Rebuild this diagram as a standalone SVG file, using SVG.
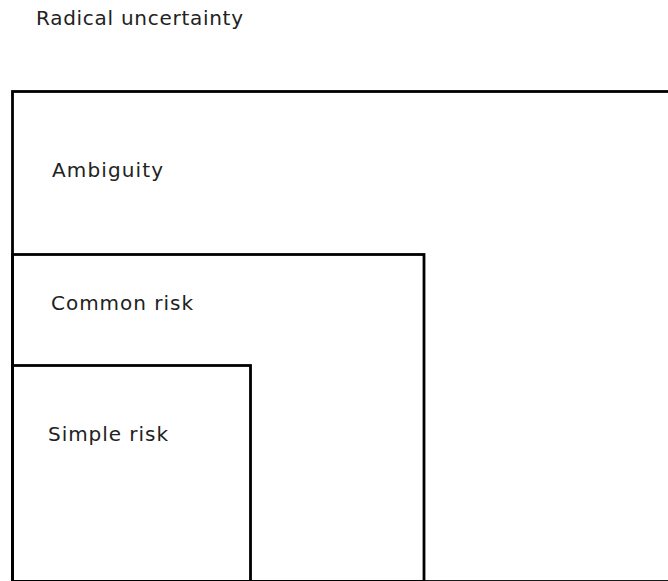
<svg xmlns="http://www.w3.org/2000/svg" width="668" height="581" viewBox="0 0 668 581">
<style>
.box{fill:none;stroke:#000;stroke-width:2.8}
.lbl{font-family:"DejaVu Sans",sans-serif;font-size:20px;fill:#222}
</style>
<rect width="668" height="581" fill="#fff"/>
<g id="radical-uncertainty">
<text class="lbl" x="36" y="25" textLength="207" lengthAdjust="spacing">Radical uncertainty</text>
</g>
<g id="ambiguity">
<rect class="box" x="12.5" y="91.5" width="700" height="490"/>
<text class="lbl" x="52" y="177" textLength="111" lengthAdjust="spacing">Ambiguity</text>
</g>
<g id="common-risk">
<rect class="box" x="12.5" y="254.5" width="411.5" height="327"/>
<text class="lbl" x="51" y="310" textLength="142" lengthAdjust="spacing">Common risk</text>
</g>
<g id="simple-risk">
<rect class="box" x="12.5" y="365.5" width="238" height="216"/>
<text class="lbl" x="48" y="441" textLength="120" lengthAdjust="spacing">Simple risk</text>
</g>
<g id="connectors"></g>
</svg>
